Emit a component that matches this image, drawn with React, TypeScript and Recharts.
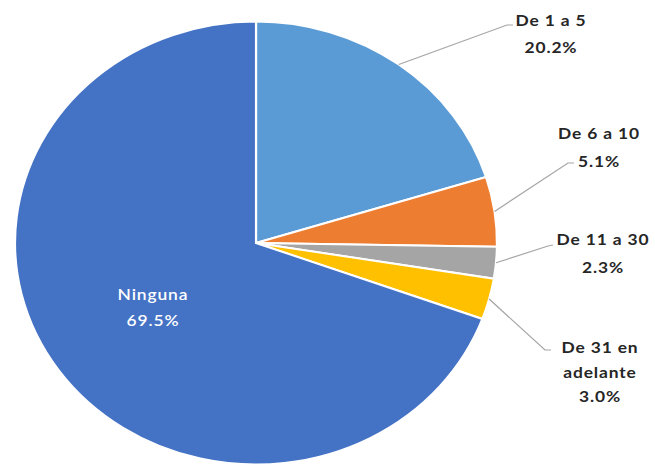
import React from "react";
import { PieChart, Pie, Cell } from "recharts";

const categories = ["De 1 a 5", "De 6 a 10", "De 11 a 30", "De 31 en adelante", "Ninguna"];
const values = [20.2, 5.1, 2.3, 3.0, 69.5];
const labelLines = [["De 1 a 5"], ["De 6 a 10"], ["De 11 a 30"], ["De 31 en", "adelante"], ["Ninguna"]];
const colors = ["#5B9BD5", "#ED7D31", "#A5A5A5", "#FFC000", "#4472C4"];

const data = categories.map((name, i) => ({ name, value: values[i] }));

const SX = 1.088;
const W = 602;
const H = 466;
const RAD = Math.PI / 180;

// label layout in reference pixel coordinates
const layout = [
  { tx: 551, ty: [20, 47], end: [507, 25], tail: [513, 25] },
  { tx: 599, ty: [133, 161], end: [568, 163], tail: [574, 163] },
  { tx: 603, ty: [239, 267], end: [548, 246], tail: [553, 245] },
  { tx: 600, ty: [347, 372, 396], end: [545, 350], tail: [551, 350] },
  { tx: 153, ty: [294, 320], end: null, tail: null },
];

const renderLabel = (props: any) => {
  const { cx, cy, midAngle, outerRadius, index, value } = props;
  const L = layout[index];
  const lines = [...labelLines[index], `${Number(value).toFixed(1)}%`];
  const inside = index === 4;
  const sx = cx + outerRadius * Math.cos(-midAngle * RAD);
  const sy = cy + outerRadius * Math.sin(-midAngle * RAD);
  return (
    <g key={`lbl-${index}`}>
      {L.end && (
        <polyline
          points={`${sx},${sy} ${L.end[0] / SX},${L.end[1]} ${L.tail![0] / SX},${L.tail![1]}`}
          fill="none"
          stroke="#A6A6A6"
          strokeWidth={1.2}
        />
      )}
      {lines.map((t, k) => (
        <text
          key={k}
          x={L.tx / SX}
          y={L.ty[k]}
          textAnchor="middle"
          dominantBaseline="central"
          fill={inside ? "#FFFFFF" : "#262626"}
          fontFamily="Lato, 'Open Sans', sans-serif"
          fontWeight={inside ? 600 : 700}
          fontSize={16}
          letterSpacing={0.8}
        >
          {t}
        </text>
      ))}
    </g>
  );
};

export default function App() {
  return (
    <div style={{ position: "absolute", left: 0, top: 0, width: 655, height: 466, overflow: "hidden", background: "#fff" }}>
      <div style={{ width: W, height: H, transform: `scaleX(${SX})`, transformOrigin: "0 0" }}>
        <PieChart width={W} height={H} margin={{ top: 0, right: 0, bottom: 0, left: 0 }}>
          <Pie
            data={data}
            dataKey="value"
            nameKey="name"
            cx={235.3}
            cy={243}
            outerRadius={221.5}
            startAngle={90}
            endAngle={-270}
            stroke="#FFFFFF"
            strokeWidth={2}
            labelLine={false}
            label={renderLabel}
            isAnimationActive={false}
          >
            {data.map((d, i) => (
              <Cell key={d.name} fill={colors[i]} />
            ))}
          </Pie>
        </PieChart>
      </div>
    </div>
  );
}
